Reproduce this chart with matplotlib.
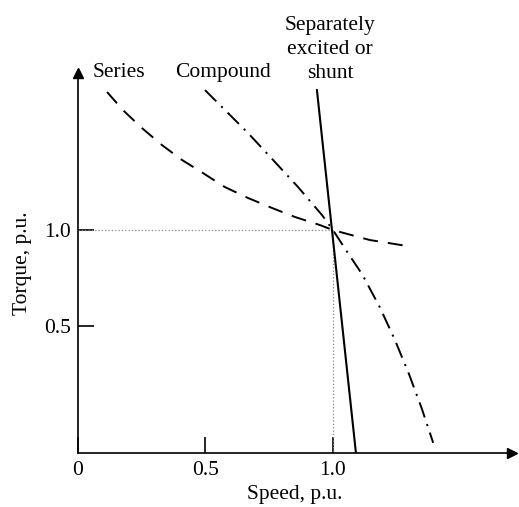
#!/usr/bin/env python3
import matplotlib
matplotlib.use("Agg")
import matplotlib.pyplot as plt

plt.rcParams['font.family'] = ['Liberation Serif', 'DejaVu Serif']
plt.rcParams['lines.scale_dashes'] = False

# torque-speed characteristics (p.u.)
series_speed = [0.114, 0.176, 0.251, 0.329, 0.408, 0.490, 0.576, 0.667, 0.761, 0.851, 0.949, 1.0, 1.145, 1.286]
series_torque = [1.719, 1.625, 1.531, 1.443, 1.365, 1.297, 1.224, 1.167, 1.115, 1.068, 1.026, 1.0, 0.948, 0.918]

compound_speed = [0.498, 0.569, 0.667, 0.765, 0.863, 0.957, 1.0, 1.038, 1.116, 1.184, 1.243, 1.298, 1.348, 1.393]
compound_torque = [1.729, 1.635, 1.505, 1.365, 1.224, 1.078, 1.0, 0.922, 0.766, 0.597, 0.427, 0.25, 0.071, -0.108]

shunt_speed = [0.937, 1.09]
shunt_torque = [1.729, -0.161]

x_ticks = [0, 0.5, 1.0]
x_ticklabels = ['0', '0.5', '1.0']
y_ticks = [0.5, 1.0]
y_ticklabels = ['0.5', '1.0']

fs = 15.5
fig = plt.figure(figsize=(5.19, 5.07), dpi=100)
ax = fig.add_axes([78 / 519, 54 / 507, 434 / 519, 380 / 507])
ax.set_xlim(0, 1.702)
ax.set_ylim(-0.161, 1.818)

# reference lines at rated point
ax.plot([0, 1.0], [1.0, 1.0], color='#888888', lw=0.9, dashes=(0.9, 1.5))
ax.plot([1.0, 1.0], [1.0, -0.161], color='#888888', lw=0.9, dashes=(0.9, 1.5))

ax.plot(series_speed, series_torque, color='black', lw=1.4, dashes=(10.8, 7.2))
ax.plot(compound_speed, compound_torque, color='black', lw=1.4,
        dashes=(11.5, 5, 1.5, 5), clip_on=False)
ax.plot(shunt_speed, shunt_torque, color='black', lw=1.5)

for s in ['top', 'right']:
    ax.spines[s].set_visible(False)
for s in ['left', 'bottom']:
    ax.spines[s].set_linewidth(1.2)

# arrow heads on the axes
ax.plot(1, -0.161, '>k', ms=7, transform=ax.get_yaxis_transform(), clip_on=False)
ax.plot(0, 1, '^k', ms=7, transform=ax.get_xaxis_transform(), clip_on=False)

ax.set_xticks(x_ticks)
ax.set_xticklabels(x_ticklabels, fontsize=fs)
ax.set_yticks(y_ticks)
ax.set_yticklabels(y_ticklabels, fontsize=fs)
ax.tick_params(direction='in', length=11.5, width=1.2, pad=6)
ax.tick_params(axis='y', pad=5)

ax.set_xlabel('Speed, p.u.', fontsize=fs, labelpad=3)
ax.set_ylabel('Torque, p.u.', fontsize=fs, labelpad=9)

ax.text(0.16, 1.823, 'Series', fontsize=fs, ha='center', va='center')
ax.text(0.569, 1.823, 'Compound', fontsize=fs, ha='center', va='center')
ax.text(0.988, 1.94, 'Separately\nexcited or\nshunt', fontsize=fs,
        ha='center', va='center', linespacing=1.36)

fig.savefig('out.png', dpi=100)
